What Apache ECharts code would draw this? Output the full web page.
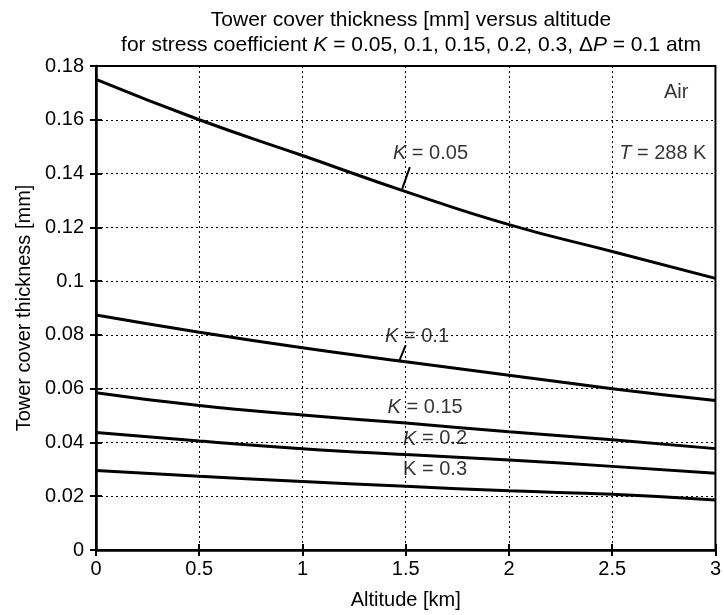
<!DOCTYPE html>
<html>
<head>
<meta charset="utf-8">
<script src="https://cdn.jsdelivr.net/npm/echarts@6/dist/echarts.min.js"></script>
<style>html,body{margin:0;padding:0;background:#fff}#c{width:724px;height:615px}</style>
</head>
<body>
<div id="c"></div>
<script>
// Altitude [km]
const altitude = [0, 0.5, 1, 1.5, 2, 2.5, 3];
// Tower cover thickness [mm] per stress coefficient K
const k005 = [0.175, 0.160, 0.1467, 0.1333, 0.121, 0.111, 0.101];
const k010 = [0.0874, 0.081, 0.0752, 0.0700, 0.0650, 0.0600, 0.0556];
const k015 = [0.0585, 0.0537, 0.0502, 0.0472, 0.0440, 0.0410, 0.0377];
const k020 = [0.0437, 0.0405, 0.0377, 0.0355, 0.0335, 0.0311, 0.0285];
const k030 = [0.0296, 0.0274, 0.0255, 0.0237, 0.0220, 0.0207, 0.0186];
const xTicks = [0, 0.5, 1, 1.5, 2, 2.5, 3];
const yTicks = [0, 0.02, 0.04, 0.06, 0.08, 0.1, 0.12, 0.14, 0.16, 0.18];
// annotation labels: [x, y, text]
const labelPts = [
  [1.62, 0.1475, '{i|K} = 0.05'],
  [1.555, 0.0795, '{i|K} = 0.1'],
  [1.594, 0.0531, '{i|K} = 0.15'],
  [1.642, 0.0413, '{i|K} = 0.2'],
  [1.642, 0.0299, 'K = 0.3'],
  [2.81, 0.170, 'Air'],
  [2.745, 0.1475, '{i|T} = 288 K']
];
// leader lines: [[x1,y1],[x2,y2]]
const leaders = [
  [[1.52, 0.1424], [1.483, 0.1343]],
  [[1.50, 0.0762], [1.47, 0.0705]]
];

const FONT = 'Liberation Sans, Arial, sans-serif';
const FS = 20;
const TFS = 21;
const chart = echarts.init(document.getElementById('c'));
const mk = (d) => altitude.map((x, i) => [x, d[i]]);
const lineSeries = (name, d) => ({
  name, type: 'line', data: mk(d), smooth: true, showSymbol: false,
  lineStyle: { color: '#000', width: 3 }, z: 5
});
chart.setOption({
  animation: false,
  backgroundColor: '#fff',
  title: {
    text: 'Tower cover thickness [mm] versus altitude\nfor stress coefficient {i|K} = 0.05, 0.1, 0.15, 0.2, 0.3, Δ{i|P} = 0.1 atm',
    left: 406, top: 3, textAlign: 'center',
    textStyle: {
      fontFamily: FONT, fontSize: TFS, fontWeight: 'normal', color: '#000', lineHeight: 25,
      rich: { i: { fontStyle: 'italic', fontFamily: FONT, fontSize: TFS, color: '#000', lineHeight: 25 } }
    }
  },
  grid: { left: 96, right: 5, top: 66, bottom: 61, show: true, borderColor: '#000', borderWidth: 2, backgroundColor: 'transparent' },
  xAxis: [{
    type: 'value', min: 0, max: 3, interval: 0.5,
    name: 'Altitude [km]', nameLocation: 'middle', nameGap: 40,
    nameTextStyle: { fontFamily: FONT, fontSize: FS, color: '#000' },
    axisLine: { lineStyle: { color: '#000', width: 2.5 } },
    axisTick: { inside: true, length: 6, lineStyle: { color: '#000', width: 2 } },
    axisLabel: { fontFamily: FONT, fontSize: FS, color: '#000', margin: 9, formatter: v => String(v) },
    splitLine: { show: true, lineStyle: { color: '#000', type: [2, 3], width: 1 } }
  }, {
    type: 'value', min: 0, max: 3, interval: 0.5, position: 'top',
    axisLine: { show: false }, axisLabel: { show: false }, splitLine: { show: false },
    axisTick: { inside: true, length: 6, lineStyle: { color: '#000', width: 2 } }
  }],
  yAxis: [{
    type: 'value', min: 0, max: 0.18, interval: 0.02,
    name: 'Tower cover thickness [mm]', nameLocation: 'middle', nameGap: 62,
    nameTextStyle: { fontFamily: FONT, fontSize: FS, color: '#000' },
    axisLine: { show: true, lineStyle: { color: '#000', width: 2.5 } },
    axisTick: { inside: true, length: 6, lineStyle: { color: '#000', width: 2 } },
    axisLabel: { fontFamily: FONT, fontSize: FS, color: '#000', margin: 12, formatter: v => String(+v.toFixed(2)) },
    splitLine: { show: true, lineStyle: { color: '#000', type: [2, 3], width: 1 } }
  }, {
    type: 'value', min: 0, max: 0.18, interval: 0.02, position: 'right',
    axisLine: { show: false }, axisLabel: { show: false }, splitLine: { show: false },
    axisTick: { inside: true, length: 6, lineStyle: { color: '#000', width: 2 } }
  }],
  series: [
    lineSeries('K=0.05', k005),
    lineSeries('K=0.1', k010),
    lineSeries('K=0.15', k015),
    lineSeries('K=0.2', k020),
    lineSeries('K=0.3', k030),
    {
      type: 'scatter', symbolSize: 0, z: 6,
      data: labelPts.map(p => ({ value: [p[0], p[1]], text: p[2] })),
      label: {
        show: true, position: 'inside', color: '#000', fontFamily: FONT, fontSize: FS,
        formatter: p => p.data.text,
        rich: { i: { fontStyle: 'italic', fontFamily: FONT, fontSize: FS, color: '#000' } }
      },
      markLine: {
        silent: true, symbol: 'none', animation: false,
        lineStyle: { color: '#000', width: 2, type: 'solid' },
        label: { show: false },
        data: leaders.map(l => [{ coord: l[0] }, { coord: l[1] }])
      }
    }
  ]
});
</script>
</body>
</html>
